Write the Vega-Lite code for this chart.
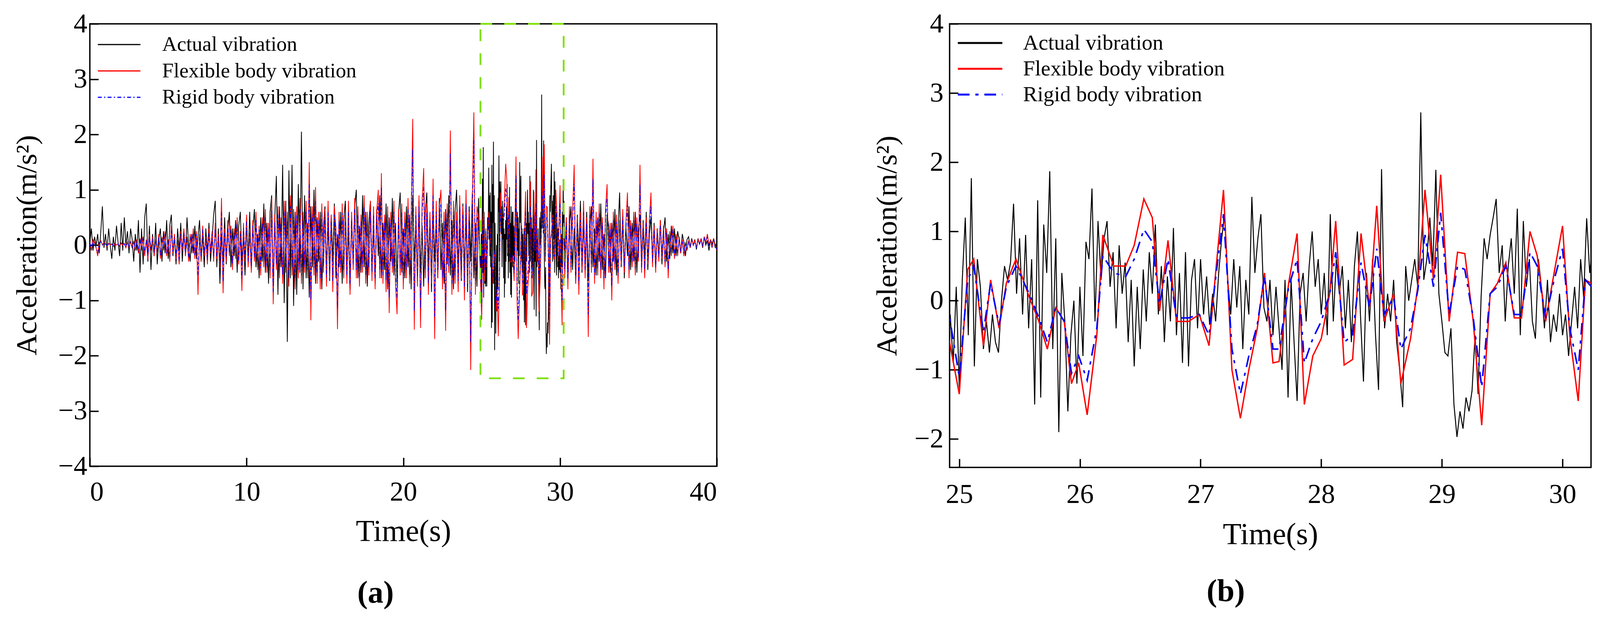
{
  "$schema": "https://vega.github.io/schema/vega-lite/v6.json",
  "background": "white",
  "padding": {"left": 30, "top": 24, "right": 5, "bottom": 5},
  "config": {
    "font": "Liberation Serif",
    "view": {"stroke": "black", "strokeWidth": 3.5},
    "axis": {
      "grid": false,
      "domain": false,
      "format": "d",
      "labelFont": "Liberation Serif",
      "labelFontSize": 70,
      "labelColor": "black",
      "tickColor": "black",
      "tickWidth": 3.5,
      "tickSize": -22,
      "titleFont": "Liberation Serif",
      "titleFontWeight": "normal",
      "titleColor": "black"
    },
    "title": {"font": "Liberation Serif", "color": "black"}
  },
  "datasets": {
    "act": [
      {"t":0,"v":0.05},{"t":0.1,"v":0.3},{"t":0.2,"v":-0.1},{"t":0.3,"v":0.15},{"t":0.4,"v":0},{"t":0.5,"v":0.2},{"t":0.6,"v":-0.15},{"t":0.7,"v":0.25},{"t":0.8,"v":0.7},{"t":0.9,"v":-0.05},
      {"t":1,"v":0.2},{"t":1.1,"v":-0.1},{"t":1.2,"v":0.3},{"t":1.3,"v":0},{"t":1.4,"v":-0.25},{"t":1.5,"v":0.15},{"t":1.6,"v":-0.1},{"t":1.7,"v":0.35},{"t":1.8,"v":0.05},{"t":1.9,"v":-0.2},
      {"t":2,"v":0.4},{"t":2.1,"v":-0.1},{"t":2.2,"v":0.5},{"t":2.3,"v":0},{"t":2.4,"v":0.25},{"t":2.5,"v":-0.15},{"t":2.6,"v":0.3},{"t":2.7,"v":0.1},{"t":2.8,"v":-0.3},{"t":2.9,"v":0.2},
      {"t":3,"v":-0.1},{"t":3.1,"v":0.45},{"t":3.2,"v":-0.5},{"t":3.3,"v":0.3},{"t":3.4,"v":-0.35},{"t":3.5,"v":0.5},{"t":3.6,"v":0.75},{"t":3.7,"v":-0.3},{"t":3.8,"v":0.35},{"t":3.9,"v":-0.45},
      {"t":4,"v":0.2},{"t":4.1,"v":-0.2},{"t":4.2,"v":0.4},{"t":4.3,"v":-0.35},{"t":4.4,"v":0.1},{"t":4.5,"v":0.3},{"t":4.6,"v":-0.3},{"t":4.7,"v":0.25},{"t":4.8,"v":-0.15},{"t":4.9,"v":0.45},
      {"t":5,"v":-0.25},{"t":5.1,"v":0.35},{"t":5.2,"v":0.55},{"t":5.3,"v":-0.2},{"t":5.4,"v":0.15},{"t":5.5,"v":-0.35},{"t":5.6,"v":0.3},{"t":5.7,"v":-0.1},{"t":5.8,"v":0.4},{"t":5.9,"v":-0.3},
      {"t":6,"v":0.25},{"t":6.1,"v":-0.2},{"t":6.2,"v":0.5},{"t":6.3,"v":0},{"t":6.4,"v":-0.3},{"t":6.5,"v":0.2},{"t":6.6,"v":-0.15},{"t":6.7,"v":0.35},{"t":6.8,"v":-0.25},{"t":6.9,"v":0.15},
      {"t":7,"v":0.45},{"t":7.1,"v":-0.3},{"t":7.2,"v":0.2},{"t":7.3,"v":-0.4},{"t":7.4,"v":0.3},{"t":7.5,"v":-0.15},{"t":7.6,"v":0.4},{"t":7.7,"v":-0.3},{"t":7.8,"v":0.1},{"t":7.9,"v":0.55},
      {"t":8,"v":0.8},{"t":8.1,"v":-0.4},{"t":8.2,"v":0.3},{"t":8.3,"v":-0.7},{"t":8.4,"v":0.2},{"t":8.5,"v":-0.3},{"t":8.6,"v":0.5},{"t":8.7,"v":-0.35},{"t":8.8,"v":0.25},{"t":8.9,"v":0.6},
      {"t":9,"v":-0.4},{"t":9.1,"v":0.3},{"t":9.2,"v":-0.2},{"t":9.3,"v":0.45},{"t":9.4,"v":-0.5},{"t":9.5,"v":0.35},{"t":9.6,"v":0.6},{"t":9.7,"v":-0.3},{"t":9.8,"v":0.2},{"t":9.9,"v":-0.55},
      {"t":10,"v":0.4},{"t":10.1,"v":-0.25},{"t":10.2,"v":0.6},{"t":10.3,"v":-0.45},{"t":10.4,"v":0.3},{"t":10.5,"v":0.65},{"t":10.6,"v":-0.4},{"t":10.7,"v":0.2},{"t":10.8,"v":-0.6},{"t":10.9,"v":0.5},
      {"t":11,"v":-0.3},{"t":11.1,"v":0.75},{"t":11.2,"v":-0.5},{"t":11.3,"v":0.4},{"t":11.4,"v":-0.7},{"t":11.5,"v":0.6},{"t":11.6,"v":0.9},{"t":11.7,"v":-0.8},{"t":11.8,"v":0.5},{"t":11.9,"v":1.25},
      {"t":12,"v":-0.9},{"t":12.1,"v":0.7},{"t":12.2,"v":-0.4},{"t":12.3,"v":1.45},{"t":12.4,"v":-1.05},{"t":12.5,"v":0.8},{"t":12.6,"v":-1.75},{"t":12.7,"v":1.35},{"t":12.8,"v":-0.6},{"t":12.9,"v":1.45},
      {"t":13,"v":-1.1},{"t":13.1,"v":0.6},{"t":13.2,"v":-0.9},{"t":13.3,"v":1.1},{"t":13.4,"v":-0.5},{"t":13.5,"v":2.05},{"t":13.6,"v":-0.8},{"t":13.7,"v":0.9},{"t":13.8,"v":-0.6},{"t":13.9,"v":0.4},
      {"t":14,"v":-0.95},{"t":14.1,"v":0.7},{"t":14.2,"v":-0.4},{"t":14.3,"v":1},{"t":14.4,"v":-0.7},{"t":14.5,"v":0.5},{"t":14.6,"v":-0.3},{"t":14.7,"v":0.6},{"t":14.8,"v":-0.8},{"t":14.9,"v":0.3},
      {"t":15,"v":0.7},{"t":15.1,"v":-0.5},{"t":15.2,"v":0.4},{"t":15.3,"v":-0.65},{"t":15.4,"v":0.55},{"t":15.5,"v":-0.3},{"t":15.6,"v":0.75},{"t":15.7,"v":-0.6},{"t":15.8,"v":0.2},{"t":15.9,"v":-0.4},
      {"t":16,"v":0.6},{"t":16.1,"v":-0.7},{"t":16.2,"v":0.45},{"t":16.3,"v":0.8},{"t":16.4,"v":-0.5},{"t":16.5,"v":0.3},{"t":16.6,"v":-0.85},{"t":16.7,"v":0.5},{"t":16.8,"v":-0.3},{"t":16.9,"v":0.7},
      {"t":17,"v":1},{"t":17.1,"v":-0.6},{"t":17.2,"v":0.35},{"t":17.3,"v":-0.5},{"t":17.4,"v":0.9},{"t":17.5,"v":-0.4},{"t":17.6,"v":0.6},{"t":17.7,"v":-0.75},{"t":17.8,"v":0.4},{"t":17.9,"v":0.8},
      {"t":18,"v":-0.5},{"t":18.1,"v":0.3},{"t":18.2,"v":-0.7},{"t":18.3,"v":0.65},{"t":18.4,"v":-0.2},{"t":18.5,"v":0.9},{"t":18.6,"v":-0.6},{"t":18.7,"v":0.4},{"t":18.8,"v":-0.45},{"t":18.9,"v":0.75},
      {"t":19,"v":-0.8},{"t":19.1,"v":0.5},{"t":19.2,"v":-0.3},{"t":19.3,"v":0.85},{"t":19.4,"v":-0.55},{"t":19.5,"v":0.4},{"t":19.6,"v":-0.7},{"t":19.7,"v":0.6},{"t":19.8,"v":0.95},{"t":19.9,"v":-0.5},
      {"t":20,"v":0.3},{"t":20.1,"v":-0.6},{"t":20.2,"v":0.7},{"t":20.3,"v":-0.4},{"t":20.4,"v":0.55},{"t":20.5,"v":-0.8},{"t":20.6,"v":0.9},{"t":20.7,"v":-0.3},{"t":20.8,"v":0.45},{"t":20.9,"v":-0.65},
      {"t":21,"v":0.8},{"t":21.1,"v":-0.5},{"t":21.2,"v":0.35},{"t":21.3,"v":-0.75},{"t":21.4,"v":0.6},{"t":21.5,"v":0.95},{"t":21.6,"v":-0.4},{"t":21.7,"v":0.5},{"t":21.8,"v":-0.85},{"t":21.9,"v":0.7},
      {"t":22,"v":-0.3},{"t":22.1,"v":0.55},{"t":22.2,"v":-0.6},{"t":22.3,"v":0.85},{"t":22.4,"v":-0.45},{"t":22.5,"v":0.4},{"t":22.6,"v":-0.7},{"t":22.7,"v":0.65},{"t":22.8,"v":-0.35},{"t":22.9,"v":0.9},
      {"t":23,"v":-0.55},{"t":23.1,"v":0.45},{"t":23.2,"v":-0.8},{"t":23.3,"v":0.6},{"t":23.4,"v":1},{"t":23.5,"v":-0.4},{"t":23.6,"v":0.3},{"t":23.7,"v":-0.65},{"t":23.8,"v":0.75},{"t":23.9,"v":-0.5},
      {"t":24,"v":0.55},{"t":24.1,"v":-0.85},{"t":24.2,"v":0.7},{"t":24.3,"v":-0.3},{"t":24.4,"v":0.95},{"t":24.5,"v":-0.6},{"t":24.6,"v":0.4},{"t":24.7,"v":-0.75},{"t":24.8,"v":0.85},{"t":24.9,"v":-0.4},
      {"t":24.925,"v":-0.2},{"t":24.95,"v":-0.9},{"t":24.975,"v":0.2},{"t":25,"v":-1.25},{"t":25.025,"v":0.3},{"t":25.05,"v":1.2},{"t":25.075,"v":-0.5},{"t":25.1,"v":1.77},{"t":25.125,"v":-0.95},{"t":25.15,"v":0.6},
      {"t":25.175,"v":0.2},{"t":25.2,"v":-0.7},{"t":25.225,"v":-0.3},{"t":25.25,"v":-0.75},{"t":25.275,"v":-0.2},{"t":25.3,"v":-0.6},{"t":25.325,"v":-0.75},{"t":25.35,"v":0},{"t":25.375,"v":0.5},{"t":25.4,"v":0.3},
      {"t":25.425,"v":0.55},{"t":25.45,"v":1.4},{"t":25.475,"v":0.1},{"t":25.5,"v":0.9},{"t":25.525,"v":-0.2},{"t":25.55,"v":0.95},{"t":25.575,"v":-0.4},{"t":25.6,"v":0.6},{"t":25.625,"v":-1.5},{"t":25.65,"v":1.45},
      {"t":25.675,"v":-1.4},{"t":25.7,"v":1.1},{"t":25.725,"v":0.4},{"t":25.75,"v":1.87},{"t":25.775,"v":-0.7},{"t":25.8,"v":0.9},{"t":25.825,"v":-1.9},{"t":25.85,"v":0.4},{"t":25.875,"v":-0.3},{"t":25.9,"v":-1.6},
      {"t":25.925,"v":-0.5},{"t":25.95,"v":0},{"t":25.975,"v":-1.2},{"t":26,"v":0.2},{"t":26.025,"v":-0.8},{"t":26.05,"v":0.85},{"t":26.075,"v":0.6},{"t":26.1,"v":1.62},{"t":26.125,"v":-0.3},{"t":26.15,"v":1.15},
      {"t":26.175,"v":0.3},{"t":26.2,"v":0.9},{"t":26.225,"v":1.15},{"t":26.25,"v":0.2},{"t":26.275,"v":0.7},{"t":26.3,"v":-0.4},{"t":26.325,"v":0.8},{"t":26.35,"v":0.1},{"t":26.375,"v":0.55},{"t":26.4,"v":-0.6},
      {"t":26.425,"v":0.3},{"t":26.45,"v":-0.95},{"t":26.475,"v":0.2},{"t":26.5,"v":-0.7},{"t":26.525,"v":0.45},{"t":26.55,"v":-0.3},{"t":26.575,"v":0.7},{"t":26.6,"v":0.1},{"t":26.625,"v":1.1},{"t":26.65,"v":-0.2},
      {"t":26.675,"v":0.5},{"t":26.7,"v":-0.6},{"t":26.725,"v":0.35},{"t":26.75,"v":-0.3},{"t":26.775,"v":1.05},{"t":26.8,"v":-0.5},{"t":26.825,"v":0.4},{"t":26.85,"v":-0.9},{"t":26.875,"v":0.7},{"t":26.9,"v":-0.95},
      {"t":26.925,"v":0.3},{"t":26.95,"v":0.6},{"t":26.975,"v":-0.4},{"t":27,"v":0.6},{"t":27.025,"v":-0.2},{"t":27.05,"v":0.35},{"t":27.075,"v":-0.35},{"t":27.1,"v":0.1},{"t":27.125,"v":-0.3},{"t":27.15,"v":0.4},
      {"t":27.175,"v":0.9},{"t":27.2,"v":1.25},{"t":27.225,"v":0.3},{"t":27.25,"v":-0.2},{"t":27.275,"v":0.6},{"t":27.3,"v":-0.1},{"t":27.325,"v":0.5},{"t":27.35,"v":-0.7},{"t":27.375,"v":0.3},{"t":27.4,"v":-0.2},
      {"t":27.425,"v":1.5},{"t":27.45,"v":0.4},{"t":27.475,"v":0.9},{"t":27.5,"v":1.25},{"t":27.525,"v":-0.1},{"t":27.55,"v":-0.3},{"t":27.575,"v":0.3},{"t":27.6,"v":-0.5},{"t":27.625,"v":0.2},{"t":27.65,"v":-0.4},
      {"t":27.675,"v":-1},{"t":27.7,"v":0.3},{"t":27.725,"v":-1.4},{"t":27.75,"v":0.3},{"t":27.775,"v":-0.6},{"t":27.8,"v":-1.45},{"t":27.825,"v":0.1},{"t":27.85,"v":0.4},{"t":27.875,"v":-0.3},{"t":27.9,"v":0.5},
      {"t":27.925,"v":1},{"t":27.95,"v":0.2},{"t":27.975,"v":0.6},{"t":28,"v":-0.2},{"t":28.025,"v":0.4},{"t":28.05,"v":-0.5},{"t":28.075,"v":1.25},{"t":28.1,"v":-0.3},{"t":28.125,"v":0.6},{"t":28.15,"v":0.1},
      {"t":28.175,"v":0.5},{"t":28.2,"v":-0.4},{"t":28.225,"v":0.3},{"t":28.25,"v":-0.6},{"t":28.275,"v":0.5},{"t":28.3,"v":1},{"t":28.325,"v":-0.2},{"t":28.35,"v":-1.17},{"t":28.375,"v":0.4},{"t":28.4,"v":-0.3},
      {"t":28.425,"v":0.6},{"t":28.45,"v":-0.5},{"t":28.475,"v":-1.29},{"t":28.5,"v":1.9},{"t":28.525,"v":-0.4},{"t":28.55,"v":0.1},{"t":28.575,"v":-0.3},{"t":28.6,"v":0.3},{"t":28.625,"v":-0.6},{"t":28.65,"v":-1},
      {"t":28.675,"v":-1.54},{"t":28.7,"v":0.5},{"t":28.725,"v":0},{"t":28.75,"v":0.3},{"t":28.775,"v":0.6},{"t":28.8,"v":0.2},{"t":28.825,"v":2.72},{"t":28.85,"v":0.3},{"t":28.875,"v":0.6},{"t":28.9,"v":1.2},
      {"t":28.925,"v":0.5},{"t":28.95,"v":1.89},{"t":28.975,"v":0.1},{"t":29,"v":-0.3},{"t":29.025,"v":-0.75},{"t":29.05,"v":-0.8},{"t":29.075,"v":-0.4},{"t":29.1,"v":-1.5},{"t":29.125,"v":-1.97},{"t":29.15,"v":-1.6},
      {"t":29.175,"v":-1.85},{"t":29.2,"v":-1.4},{"t":29.225,"v":-1.6},{"t":29.25,"v":-1.3},{"t":29.275,"v":-0.5},{"t":29.3,"v":-1.35},{"t":29.325,"v":0.05},{"t":29.35,"v":0.9},{"t":29.375,"v":0.6},{"t":29.4,"v":0.95},
      {"t":29.425,"v":1.2},{"t":29.45,"v":1.47},{"t":29.475,"v":0.4},{"t":29.5,"v":0.8},{"t":29.525,"v":-0.3},{"t":29.55,"v":0.5},{"t":29.575,"v":0.9},{"t":29.6,"v":0.1},{"t":29.625,"v":1.33},{"t":29.65,"v":-0.5},
      {"t":29.675,"v":1.15},{"t":29.7,"v":0.2},{"t":29.725,"v":0.6},{"t":29.75,"v":-0.3},{"t":29.775,"v":-0.55},{"t":29.8,"v":0.6},{"t":29.825,"v":0.2},{"t":29.85,"v":-0.4},{"t":29.875,"v":0.3},{"t":29.9,"v":-0.6},
      {"t":29.925,"v":-0.2},{"t":29.95,"v":-0.45},{"t":29.975,"v":0.1},{"t":30,"v":-0.5},{"t":30.025,"v":-0.2},{"t":30.05,"v":-0.8},{"t":30.075,"v":-0.3},{"t":30.1,"v":0.2},{"t":30.125,"v":-0.4},{"t":30.15,"v":0.6},
      {"t":30.175,"v":0.05},{"t":30.2,"v":1.19},{"t":30.225,"v":0.4},{"t":30.25,"v":0.8},
      {"t":30.3,"v":-0.3},{"t":30.4,"v":0.5},{"t":30.5,"v":-0.6},{"t":30.6,"v":0.35},{"t":30.7,"v":0.7},{"t":30.8,"v":-0.45},{"t":30.9,"v":0.3},{"t":31,"v":-0.7},{"t":31.1,"v":0.55},{"t":31.2,"v":-0.2},
      {"t":31.3,"v":0.8},{"t":31.4,"v":-0.5},{"t":31.5,"v":0.4},{"t":31.6,"v":-0.35},{"t":31.7,"v":0.6},{"t":31.8,"v":-0.65},{"t":31.9,"v":0.25},{"t":32,"v":0.7},{"t":32.1,"v":-0.4},{"t":32.2,"v":0.3},
      {"t":32.3,"v":-0.55},{"t":32.4,"v":0.5},{"t":32.5,"v":-0.3},{"t":32.6,"v":0.75},{"t":32.7,"v":-0.45},{"t":32.8,"v":0.2},{"t":32.9,"v":-0.6},{"t":33,"v":0.55},{"t":33.1,"v":0.35},{"t":33.2,"v":-0.5},
      {"t":33.3,"v":0.4},{"t":33.4,"v":-0.3},{"t":33.5,"v":0.65},{"t":33.6,"v":-0.55},{"t":33.7,"v":0.3},{"t":33.8,"v":0.95},{"t":33.9,"v":-0.4},{"t":34,"v":0.5},{"t":34.1,"v":-0.6},{"t":34.2,"v":0.35},
      {"t":34.3,"v":-0.2},{"t":34.4,"v":0.7},{"t":34.5,"v":-0.45},{"t":34.6,"v":0.4},{"t":34.7,"v":-0.3},{"t":34.8,"v":0.6},{"t":34.9,"v":-0.5},{"t":35,"v":0.3},{"t":35.1,"v":0.55},{"t":35.2,"v":-0.35},
      {"t":35.3,"v":0.45},{"t":35.4,"v":-0.25},{"t":35.5,"v":0.6},{"t":35.6,"v":-0.45},{"t":35.7,"v":0.2},{"t":35.8,"v":0.5},{"t":35.9,"v":-0.3},{"t":36,"v":0.4},{"t":36.1,"v":-0.4},{"t":36.2,"v":0.3},
      {"t":36.3,"v":-0.2},{"t":36.4,"v":0.45},{"t":36.5,"v":-0.35},{"t":36.6,"v":0.25},{"t":36.7,"v":0.5},{"t":36.8,"v":-0.3},{"t":36.9,"v":0.2},{"t":37,"v":-0.25},{"t":37.1,"v":0.35},{"t":37.2,"v":-0.15},
      {"t":37.3,"v":0.3},{"t":37.4,"v":-0.2},{"t":37.5,"v":0.25},{"t":37.6,"v":0.1},{"t":37.7,"v":-0.15},{"t":37.8,"v":0.2},{"t":37.9,"v":0.05},{"t":38,"v":-0.2},{"t":38.1,"v":0.1},{"t":38.2,"v":0.15},
      {"t":38.3,"v":-0.05},{"t":38.4,"v":0.12},{"t":38.5,"v":0},{"t":38.6,"v":0.1},{"t":38.7,"v":-0.08},{"t":38.8,"v":0.12},{"t":38.9,"v":0.02},{"t":39,"v":0.1},{"t":39.1,"v":-0.05},{"t":39.2,"v":0.15},
      {"t":39.3,"v":0},{"t":39.4,"v":0.08},{"t":39.5,"v":-0.1},{"t":39.6,"v":0.1},{"t":39.7,"v":0.02},{"t":39.8,"v":0.12},{"t":39.9,"v":-0.05},{"t":40,"v":0.05}
    ],
    "sim": [
      {"t":0,"f":0.05,"r":0.04},{"t":0.1,"f":-0.1,"r":-0.08},{"t":0.2,"f":0.1,"r":0.08},{"t":0.3,"f":0.05,"r":0.04},{"t":0.4,"f":-0.05,"r":-0.04},{"t":0.5,"f":-0.2,"r":-0.15},{"t":0.6,"f":0.05,"r":0.04},{"t":0.7,"f":0.08,"r":0.06},{"t":0.8,"f":0,"r":0},{"t":0.9,"f":0.05,"r":0.04},
      {"t":1,"f":0.02,"r":0.02},{"t":1.1,"f":-0.03,"r":-0.02},{"t":1.2,"f":0.03,"r":0.02},{"t":1.3,"f":0,"r":0},{"t":1.4,"f":0.02,"r":0.02},{"t":1.5,"f":-0.02,"r":-0.02},{"t":1.6,"f":0.03,"r":0.02},{"t":1.7,"f":0,"r":0},{"t":1.8,"f":0.02,"r":0.02},{"t":1.9,"f":-0.03,"r":-0.02},
      {"t":2,"f":0.04,"r":0.03},{"t":2.1,"f":0,"r":0},{"t":2.2,"f":0.03,"r":0.02},{"t":2.3,"f":-0.05,"r":-0.04},{"t":2.4,"f":0.05,"r":0.04},{"t":2.5,"f":-0.03,"r":-0.02},{"t":2.6,"f":0.06,"r":0.05},{"t":2.7,"f":-0.05,"r":-0.04},{"t":2.8,"f":0.08,"r":0.06},{"t":2.9,"f":-0.1,"r":-0.08},
      {"t":3,"f":0.1,"r":0.08},{"t":3.1,"f":-0.15,"r":-0.12},{"t":3.2,"f":0.12,"r":0.1},{"t":3.3,"f":-0.1,"r":-0.08},{"t":3.4,"f":0.15,"r":0.12},{"t":3.5,"f":-0.2,"r":-0.15},{"t":3.6,"f":0.1,"r":0.08},{"t":3.7,"f":-0.25,"r":-0.2},{"t":3.8,"f":0.2,"r":0.15},{"t":3.9,"f":-0.1,"r":-0.08},
      {"t":4,"f":0.15,"r":0.12},{"t":4.1,"f":-0.2,"r":-0.15},{"t":4.2,"f":0.1,"r":0.08},{"t":4.3,"f":-0.15,"r":-0.12},{"t":4.4,"f":0.2,"r":0.15},{"t":4.5,"f":-0.25,"r":-0.2},{"t":4.6,"f":0.15,"r":0.12},{"t":4.7,"f":-0.1,"r":-0.08},{"t":4.8,"f":0.25,"r":0.2},{"t":4.9,"f":-0.2,"r":-0.15},
      {"t":5,"f":0.1,"r":0.08},{"t":5.1,"f":-0.3,"r":-0.22},{"t":5.2,"f":0.35,"r":0.28},{"t":5.3,"f":-0.15,"r":-0.12},{"t":5.4,"f":0.2,"r":0.15},{"t":5.5,"f":-0.25,"r":-0.2},{"t":5.6,"f":0.1,"r":0.08},{"t":5.7,"f":-0.35,"r":-0.28},{"t":5.8,"f":0.25,"r":0.2},{"t":5.9,"f":-0.1,"r":-0.08},
      {"t":6,"f":0.3,"r":0.22},{"t":6.1,"f":-0.2,"r":-0.15},{"t":6.2,"f":0.15,"r":0.12},{"t":6.3,"f":-0.3,"r":-0.22},{"t":6.4,"f":0.2,"r":0.15},{"t":6.5,"f":-0.15,"r":-0.12},{"t":6.6,"f":0.3,"r":0.22},{"t":6.7,"f":-0.25,"r":-0.2},{"t":6.8,"f":0.25,"r":0.2},{"t":6.9,"f":-0.9,"r":-0.55},
      {"t":7,"f":0.2,"r":0.15},{"t":7.1,"f":-0.3,"r":-0.22},{"t":7.2,"f":0.35,"r":0.28},{"t":7.3,"f":-0.2,"r":-0.15},{"t":7.4,"f":0.15,"r":0.12},{"t":7.5,"f":-0.35,"r":-0.28},{"t":7.6,"f":0.3,"r":0.22},{"t":7.7,"f":-0.15,"r":-0.12},{"t":7.8,"f":0.25,"r":0.2},{"t":7.9,"f":-0.3,"r":-0.22},
      {"t":8,"f":0.4,"r":0.3},{"t":8.1,"f":-0.25,"r":-0.2},{"t":8.2,"f":0.2,"r":0.15},{"t":8.3,"f":-0.4,"r":-0.3},{"t":8.4,"f":0.85,"r":0.6},{"t":8.5,"f":-0.87,"r":-0.65},{"t":8.6,"f":0.3,"r":0.22},{"t":8.7,"f":-0.3,"r":-0.22},{"t":8.8,"f":0.45,"r":0.35},{"t":8.9,"f":-0.2,"r":-0.15},
      {"t":9,"f":0.35,"r":0.28},{"t":9.1,"f":-0.45,"r":-0.35},{"t":9.2,"f":0.3,"r":0.22},{"t":9.3,"f":-0.25,"r":-0.2},{"t":9.4,"f":0.5,"r":0.4},{"t":9.5,"f":-0.35,"r":-0.28},{"t":9.6,"f":0.25,"r":0.2},{"t":9.7,"f":-0.83,"r":-0.6},{"t":9.8,"f":0.4,"r":0.3},{"t":9.9,"f":-0.3,"r":-0.22},
      {"t":10,"f":0.55,"r":0.42},{"t":10.1,"f":-0.4,"r":-0.3},{"t":10.2,"f":0.3,"r":0.22},{"t":10.3,"f":-0.5,"r":-0.4},{"t":10.4,"f":0.45,"r":0.35},{"t":10.5,"f":-0.3,"r":-0.22},{"t":10.6,"f":0.6,"r":0.45},{"t":10.7,"f":-0.45,"r":-0.35},{"t":10.8,"f":0.35,"r":0.28},{"t":10.9,"f":-0.55,"r":-0.42},
      {"t":11,"f":0.5,"r":0.4},{"t":11.1,"f":-0.4,"r":-0.3},{"t":11.2,"f":0.65,"r":0.5},{"t":11.3,"f":-0.5,"r":-0.4},{"t":11.4,"f":0.4,"r":0.3},{"t":11.5,"f":-0.6,"r":-0.45},{"t":11.6,"f":0.85,"r":0.65},{"t":11.7,"f":-1.07,"r":-0.85},{"t":11.8,"f":0.55,"r":0.42},{"t":11.9,"f":-0.45,"r":-0.35},
      {"t":12,"f":0.7,"r":0.55},{"t":12.1,"f":-0.6,"r":-0.45},{"t":12.2,"f":0.5,"r":0.4},{"t":12.3,"f":-0.7,"r":-0.55},{"t":12.4,"f":0.8,"r":0.6},{"t":12.5,"f":-0.5,"r":-0.4},{"t":12.6,"f":0.6,"r":0.45},{"t":12.7,"f":-0.75,"r":-0.6},{"t":12.8,"f":0.9,"r":0.7},{"t":12.9,"f":-0.55,"r":-0.42},
      {"t":13,"f":0.65,"r":0.5},{"t":13.1,"f":-0.8,"r":-0.6},{"t":13.2,"f":0.7,"r":0.55},{"t":13.3,"f":-0.6,"r":-0.45},{"t":13.4,"f":0.85,"r":0.65},{"t":13.5,"f":-0.7,"r":-0.55},{"t":13.6,"f":0.6,"r":0.45},{"t":13.7,"f":-0.5,"r":-0.4},{"t":13.8,"f":0.8,"r":0.6},{"t":13.9,"f":-0.6,"r":-0.45},
      {"t":14,"f":1.5,"r":1.1},{"t":14.1,"f":-1.36,"r":-1},{"t":14.2,"f":0.7,"r":0.55},{"t":14.3,"f":-0.55,"r":-0.42},{"t":14.4,"f":1.05,"r":0.8},{"t":14.5,"f":-0.7,"r":-0.55},{"t":14.6,"f":0.6,"r":0.45},{"t":14.7,"f":-0.8,"r":-0.6},{"t":14.8,"f":0.75,"r":0.58},{"t":14.9,"f":-0.5,"r":-0.4},
      {"t":15,"f":0.65,"r":0.5},{"t":15.1,"f":-0.75,"r":-0.58},{"t":15.2,"f":0.8,"r":0.6},{"t":15.3,"f":-0.6,"r":-0.45},{"t":15.4,"f":0.55,"r":0.42},{"t":15.5,"f":-0.85,"r":-0.65},{"t":15.6,"f":0.7,"r":0.55},{"t":15.7,"f":0.3,"r":0.22},{"t":15.8,"f":-1.52,"r":-1.15},{"t":15.9,"f":0.6,"r":0.45},
      {"t":16,"f":-0.5,"r":-0.4},{"t":16.1,"f":0.75,"r":0.58},{"t":16.2,"f":-0.6,"r":-0.45},{"t":16.3,"f":0.55,"r":0.42},{"t":16.4,"f":-0.7,"r":-0.55},{"t":16.5,"f":0.8,"r":0.6},{"t":16.6,"f":-0.9,"r":-0.7},{"t":16.7,"f":0.6,"r":0.45},{"t":16.8,"f":-0.45,"r":-0.35},{"t":16.9,"f":0.85,"r":0.65},
      {"t":17,"f":-0.6,"r":-0.45},{"t":17.1,"f":0.7,"r":0.55},{"t":17.2,"f":-0.75,"r":-0.58},{"t":17.3,"f":0.55,"r":0.42},{"t":17.4,"f":-0.5,"r":-0.4},{"t":17.5,"f":0.9,"r":0.7},{"t":17.6,"f":-0.7,"r":-0.55},{"t":17.7,"f":0.6,"r":0.45},{"t":17.8,"f":-0.55,"r":-0.42},{"t":17.9,"f":0.8,"r":0.6},
      {"t":18,"f":-0.65,"r":-0.5},{"t":18.1,"f":0.7,"r":0.55},{"t":18.2,"f":-0.8,"r":-0.6},{"t":18.3,"f":0.6,"r":0.45},{"t":18.4,"f":1,"r":0.75},{"t":18.5,"f":-0.6,"r":-0.45},{"t":18.6,"f":1.3,"r":1.05},{"t":18.7,"f":-0.7,"r":-0.55},{"t":18.8,"f":0.55,"r":0.42},{"t":18.9,"f":-0.85,"r":-0.65},
      {"t":19,"f":0.7,"r":0.55},{"t":19.1,"f":-1.23,"r":-0.95},{"t":19.2,"f":0.6,"r":0.45},{"t":19.3,"f":-0.5,"r":-0.4},{"t":19.4,"f":0.8,"r":0.6},{"t":19.5,"f":-0.7,"r":-0.55},{"t":19.6,"f":-1.25,"r":-0.95},{"t":19.7,"f":0.65,"r":0.5},{"t":19.8,"f":-0.55,"r":-0.42},{"t":19.9,"f":0.75,"r":0.58},
      {"t":20,"f":-0.8,"r":-0.6},{"t":20.1,"f":0.6,"r":0.45},{"t":20.2,"f":-0.6,"r":-0.45},{"t":20.3,"f":0.85,"r":0.65},{"t":20.4,"f":-0.7,"r":-0.55},{"t":20.5,"f":0.5,"r":0.4},{"t":20.6,"f":2.28,"r":1.75},{"t":20.7,"f":-1.53,"r":-1.2},{"t":20.8,"f":0.7,"r":0.55},{"t":20.9,"f":-0.75,"r":-0.58},
      {"t":21,"f":0.9,"r":0.7},{"t":21.1,"f":-1.5,"r":-1.15},{"t":21.2,"f":0.8,"r":0.6},{"t":21.3,"f":1.39,"r":1.05},{"t":21.4,"f":-0.6,"r":-0.45},{"t":21.5,"f":0.75,"r":0.58},{"t":21.6,"f":-0.9,"r":-0.7},{"t":21.7,"f":0.6,"r":0.45},{"t":21.8,"f":-0.7,"r":-0.55},{"t":21.9,"f":1.2,"r":0.9},
      {"t":22,"f":-1.7,"r":-1.3},{"t":22.1,"f":0.8,"r":0.6},{"t":22.2,"f":-0.6,"r":-0.45},{"t":22.3,"f":0.7,"r":0.55},{"t":22.4,"f":1,"r":0.75},{"t":22.5,"f":-0.8,"r":-0.6},{"t":22.6,"f":0.6,"r":0.45},{"t":22.7,"f":-1.55,"r":-1.2},{"t":22.8,"f":0.75,"r":0.58},{"t":22.9,"f":-0.5,"r":-0.4},
      {"t":23,"f":2.07,"r":1.65},{"t":23.1,"f":-0.9,"r":-0.7},{"t":23.2,"f":0.8,"r":0.6},{"t":23.3,"f":-0.7,"r":-0.55},{"t":23.4,"f":0.6,"r":0.45},{"t":23.5,"f":-0.85,"r":-0.65},{"t":23.6,"f":0.9,"r":0.7},{"t":23.7,"f":-0.6,"r":-0.45},{"t":23.8,"f":0.7,"r":0.55},{"t":23.9,"f":-1,"r":-0.75},
      {"t":24,"f":1,"r":0.75},{"t":24.1,"f":-0.7,"r":-0.55},{"t":24.2,"f":0.6,"r":0.45},{"t":24.3,"f":-2.26,"r":-1.75},{"t":24.4,"f":0.8,"r":0.6},{"t":24.5,"f":2.4,"r":1.9},{"t":24.6,"f":-0.9,"r":-0.7},{"t":24.7,"f":0.7,"r":0.55},{"t":24.8,"f":0.5,"r":0.4},{"t":24.9,"f":-0.4,"r":-0.3},
      {"t":24.92,"f":-0.6,"r":-0.25},{"t":25,"f":-1.35,"r":-1.1},{"t":25.07,"f":0.45,"r":0.3},{"t":25.12,"f":0.6,"r":0.5},{"t":25.2,"f":-0.65,"r":-0.45},{"t":25.26,"f":0.3,"r":0.25},{"t":25.33,"f":-0.4,"r":-0.35},{"t":25.39,"f":0.25,"r":0.2},{"t":25.47,"f":0.6,"r":0.5},{"t":25.58,"f":0.05,"r":0.1},
      {"t":25.66,"f":-0.3,"r":-0.25},{"t":25.73,"f":-0.7,"r":-0.6},{"t":25.8,"f":-0.1,"r":-0.1},{"t":25.87,"f":-0.3,"r":-0.3},{"t":25.93,"f":-1.2,"r":-1.05},{"t":25.99,"f":-0.9,"r":-0.8},{"t":26.06,"f":-1.65,"r":-1.15},{"t":26.14,"f":-0.5,"r":-0.4},{"t":26.19,"f":0.95,"r":0.65},{"t":26.28,"f":0.5,"r":0.4},
      {"t":26.38,"f":0.5,"r":0.35},{"t":26.45,"f":0.8,"r":0.6},{"t":26.53,"f":1.47,"r":1.03},{"t":26.6,"f":1.2,"r":0.85},{"t":26.66,"f":-0.15,"r":-0.05},{"t":26.73,"f":0.87,"r":0.6},{"t":26.8,"f":-0.3,"r":-0.25},{"t":26.9,"f":-0.3,"r":-0.25},{"t":26.99,"f":-0.2,"r":-0.2},{"t":27.07,"f":-0.65,"r":-0.5},
      {"t":27.13,"f":0.5,"r":0.4},{"t":27.19,"f":1.6,"r":1.25},{"t":27.26,"f":-1,"r":-0.7},{"t":27.33,"f":-1.7,"r":-1.35},{"t":27.4,"f":-1,"r":-0.8},{"t":27.47,"f":-0.4,"r":-0.35},{"t":27.53,"f":0.4,"r":0.35},{"t":27.6,"f":-0.9,"r":-0.7},{"t":27.65,"f":-0.88,"r":-0.7},{"t":27.73,"f":0.25,"r":0.2},
      {"t":27.8,"f":0.97,"r":0.6},{"t":27.86,"f":-1.5,"r":-0.9},{"t":27.93,"f":-0.8,"r":-0.55},{"t":28,"f":-0.55,"r":-0.3},{"t":28.07,"f":0.1,"r":0.1},{"t":28.12,"f":1.15,"r":0.7},{"t":28.19,"f":-0.93,"r":-0.6},{"t":28.26,"f":-0.85,"r":-0.5},{"t":28.33,"f":0.97,"r":0.55},{"t":28.4,"f":-0.1,"r":-0.1},
      {"t":28.46,"f":1.37,"r":0.75},{"t":28.52,"f":-0.3,"r":-0.2},{"t":28.6,"f":0.1,"r":0.05},{"t":28.66,"f":-1.2,"r":-0.7},{"t":28.74,"f":-0.55,"r":-0.4},{"t":28.8,"f":0.2,"r":0.15},{"t":28.86,"f":1.6,"r":0.95},{"t":28.93,"f":0.3,"r":0.2},{"t":28.99,"f":1.82,"r":1.27},{"t":29.06,"f":-0.3,"r":-0.2},
      {"t":29.13,"f":0.7,"r":0.5},{"t":29.19,"f":0.68,"r":0.45},{"t":29.26,"f":-0.3,"r":-0.25},{"t":29.33,"f":-1.8,"r":-1.25},{"t":29.4,"f":0.1,"r":0.1},{"t":29.46,"f":0.25,"r":0.2},{"t":29.53,"f":0.55,"r":0.5},{"t":29.6,"f":-0.25,"r":-0.2},{"t":29.66,"f":-0.25,"r":-0.2},{"t":29.73,"f":1,"r":0.7},
      {"t":29.79,"f":0.65,"r":0.5},{"t":29.86,"f":-0.3,"r":-0.25},{"t":29.93,"f":0.4,"r":0.3},{"t":30,"f":1.08,"r":0.75},{"t":30.06,"f":-0.5,"r":-0.4},{"t":30.13,"f":-1.45,"r":-1},{"t":30.19,"f":0.3,"r":0.3},{"t":30.24,"f":0.25,"r":0.2},
      {"t":30.3,"f":-0.6,"r":-0.45},{"t":30.4,"f":0.5,"r":0.4},{"t":30.5,"f":-0.8,"r":-0.6},{"t":30.6,"f":0.7,"r":0.55},{"t":30.7,"f":-0.5,"r":-0.4},{"t":30.8,"f":0.6,"r":0.45},{"t":30.9,"f":1.45,"r":1.1},{"t":31,"f":-0.7,"r":-0.55},{"t":31.1,"f":0.5,"r":0.4},{"t":31.2,"f":-0.9,"r":-0.7},
      {"t":31.3,"f":0.6,"r":0.45},{"t":31.4,"f":-0.45,"r":-0.35},{"t":31.5,"f":0.8,"r":0.6},{"t":31.6,"f":-0.6,"r":-0.45},{"t":31.7,"f":0.5,"r":0.4},{"t":31.8,"f":-1.66,"r":-1.25},{"t":31.9,"f":0.7,"r":0.55},{"t":32,"f":-0.5,"r":-0.4},{"t":32.1,"f":1.56,"r":1.2},{"t":32.2,"f":-0.7,"r":-0.55},
      {"t":32.3,"f":0.6,"r":0.45},{"t":32.4,"f":-0.55,"r":-0.42},{"t":32.5,"f":0.75,"r":0.58},{"t":32.6,"f":-0.6,"r":-0.45},{"t":32.7,"f":0.5,"r":0.4},{"t":32.8,"f":-0.8,"r":-0.6},{"t":32.9,"f":0.65,"r":0.5},{"t":33,"f":1.1,"r":0.85},{"t":33.1,"f":-0.5,"r":-0.4},{"t":33.2,"f":0.4,"r":0.3},
      {"t":33.3,"f":-1,"r":-0.75},{"t":33.4,"f":0.6,"r":0.45},{"t":33.5,"f":-0.45,"r":-0.35},{"t":33.6,"f":0.55,"r":0.42},{"t":33.7,"f":-0.7,"r":-0.55},{"t":33.8,"f":0.45,"r":0.35},{"t":33.9,"f":-0.35,"r":-0.28},{"t":34,"f":0.65,"r":0.5},{"t":34.1,"f":-0.5,"r":-0.4},{"t":34.2,"f":0.4,"r":0.3},
      {"t":34.3,"f":0.95,"r":0.72},{"t":34.4,"f":-0.6,"r":-0.45},{"t":34.5,"f":0.45,"r":0.35},{"t":34.6,"f":-0.4,"r":-0.3},{"t":34.7,"f":0.6,"r":0.45},{"t":34.8,"f":-0.55,"r":-0.42},{"t":34.9,"f":0.5,"r":0.4},{"t":35,"f":-0.3,"r":-0.22},{"t":35.1,"f":1.45,"r":1.1},{"t":35.2,"f":-0.5,"r":-0.4},
      {"t":35.3,"f":0.4,"r":0.3},{"t":35.4,"f":-0.6,"r":-0.45},{"t":35.5,"f":0.5,"r":0.4},{"t":35.6,"f":-0.35,"r":-0.28},{"t":35.7,"f":0.45,"r":0.35},{"t":35.8,"f":0.95,"r":0.72},{"t":35.9,"f":-0.4,"r":-0.3},{"t":36,"f":0.35,"r":0.28},{"t":36.1,"f":-0.5,"r":-0.4},{"t":36.2,"f":0.3,"r":0.22},
      {"t":36.3,"f":-0.3,"r":-0.22},{"t":36.4,"f":0.45,"r":0.35},{"t":36.5,"f":-0.25,"r":-0.2},{"t":36.6,"f":0.35,"r":0.28},{"t":36.7,"f":-0.4,"r":-0.3},{"t":36.8,"f":0.3,"r":0.22},{"t":36.9,"f":-0.6,"r":-0.45},{"t":37,"f":0.25,"r":0.2},{"t":37.1,"f":-0.2,"r":-0.15},{"t":37.2,"f":0.35,"r":0.28},
      {"t":37.3,"f":-0.25,"r":-0.2},{"t":37.4,"f":0.2,"r":0.15},{"t":37.5,"f":-0.2,"r":-0.15},{"t":37.6,"f":0.15,"r":0.12},{"t":37.7,"f":-0.15,"r":-0.12},{"t":37.8,"f":0.1,"r":0.08},{"t":37.9,"f":-0.2,"r":-0.15},{"t":38,"f":0.05,"r":0.04},{"t":38.1,"f":-0.1,"r":-0.08},{"t":38.2,"f":0.08,"r":0.06},
      {"t":38.3,"f":-0.05,"r":-0.04},{"t":38.4,"f":0.1,"r":0.08},{"t":38.5,"f":0,"r":0},{"t":38.6,"f":0.08,"r":0.06},{"t":38.7,"f":-0.05,"r":-0.04},{"t":38.8,"f":0.1,"r":0.08},{"t":38.9,"f":0.02,"r":0.02},{"t":39,"f":0.12,"r":0.1},{"t":39.1,"f":-0.03,"r":-0.02},{"t":39.2,"f":0.15,"r":0.12},
      {"t":39.3,"f":0.05,"r":0.04},{"t":39.4,"f":0.2,"r":0.15},{"t":39.5,"f":0,"r":0},{"t":39.6,"f":0.1,"r":0.08},{"t":39.7,"f":-0.05,"r":-0.04},{"t":39.8,"f":0.12,"r":0.1},{"t":39.9,"f":0,"r":0},{"t":40,"f":-0.1,"r":-0.08}
    ],
    "box": [{"x1": 24.92, "x2": 30.23, "y1": -2.41, "y2": 4}]
  },
  "spacing": 596,
  "bounds": "flush",
  "resolve": {
    "scale": {"color": "independent", "strokeDash": "independent"},
    "legend": {"color": "independent", "strokeDash": "independent"}
  },
  "hconcat": [
    {
      "width": 1605,
      "height": 1132,
      "title": {"text": "(a)", "orient": "bottom", "frame": "group", "anchor": "middle", "fontSize": 80, "fontWeight": "bold", "offset": 80, "dx": -71},
      "layer": [
        {
          "data": {"name": "act"},
          "mark": {"type": "line", "strokeWidth": 2, "clip": true},
          "encoding": {
            "x": {"field": "t", "type": "quantitative", "title": "Time(s)", "scale": {"domain": [0, 40], "nice": false}, "axis": {"values": [0, 10, 20, 30, 40], "labelPadding": 54, "titleFontSize": 78, "titlePadding": 27}},
            "y": {"field": "v", "type": "quantitative", "title": "Acceleration(m/s²)", "scale": {"domain": [-4, 4], "nice": false}, "axis": {"values": [-4, -3, -2, -1, 0, 1, 2, 3, 4], "labelPadding": 29, "titleFontSize": 75, "titlePadding": 40}},
            "color": {"datum": "Actual vibration", "type": "nominal", "scale": {"domain": ["Actual vibration", "Flexible body vibration", "Rigid body vibration"], "range": ["#000000", "#ff0000", "#0000ff"]},
              "legend": {"title": null, "orient": "none", "legendX": 46, "legendY": 24, "padding": 0, "symbolType": "M-2,0H2", "symbolSize": 2970, "symbolStrokeWidth": 3, "labelFont": "Liberation Serif", "labelFontSize": 53, "labelColor": "black", "labelOffset": 81, "rowPadding": 11.5, "labelLimit": 0}},
            "strokeDash": {"datum": "Actual vibration", "type": "nominal", "scale": {"domain": ["Actual vibration", "Flexible body vibration", "Rigid body vibration"], "range": [[1, 0], [1, 0], [10, 6, 3, 6]]},
              "legend": {"title": null, "orient": "none", "legendX": 46, "legendY": 24, "padding": 0, "symbolType": "M-2,0H2", "symbolSize": 2970, "symbolStrokeWidth": 3, "labelFont": "Liberation Serif", "labelFontSize": 53, "labelColor": "black", "labelOffset": 81, "rowPadding": 11.5, "labelLimit": 0}}
          }
        },
        {
          "data": {"name": "sim"},
          "mark": {"type": "line", "strokeWidth": 2, "clip": true},
          "encoding": {
            "x": {"field": "t", "type": "quantitative", "title": "Time(s)"},
            "y": {"field": "f", "type": "quantitative", "title": "Acceleration(m/s²)"},
            "color": {"datum": "Flexible body vibration", "type": "nominal"},
            "strokeDash": {"datum": "Flexible body vibration", "type": "nominal"}
          }
        },
        {
          "data": {"name": "sim"},
          "mark": {"type": "line", "strokeWidth": 2, "clip": true},
          "encoding": {
            "x": {"field": "t", "type": "quantitative", "title": "Time(s)"},
            "y": {"field": "r", "type": "quantitative", "title": "Acceleration(m/s²)"},
            "color": {"datum": "Rigid body vibration", "type": "nominal"},
            "strokeDash": {"datum": "Rigid body vibration", "type": "nominal"}
          }
        },
        {
          "data": {"name": "box"},
          "mark": {"type": "rect", "fill": null, "stroke": "#7ee000", "strokeWidth": 4.5, "strokeDash": [30, 31]},
          "encoding": {
            "x": {"field": "x1", "type": "quantitative", "title": "Time(s)"},
            "x2": {"field": "x2"},
            "y": {"field": "y1", "type": "quantitative", "title": "Acceleration(m/s²)"},
            "y2": {"field": "y2"}
          }
        }
      ]
    },
    {
      "width": 1642,
      "height": 1135,
      "title": {"text": "(b)", "orient": "bottom", "frame": "group", "anchor": "middle", "fontSize": 80, "fontWeight": "bold", "offset": 68, "dx": -114},
      "layer": [
        {
          "data": {"name": "act"},
          "mark": {"type": "line", "strokeWidth": 2.5, "clip": true},
          "encoding": {
            "x": {"field": "t", "type": "quantitative", "title": "Time(s)", "scale": {"domain": [24.92, 30.236], "nice": false, "zero": false}, "axis": {"values": [25, 26, 27, 28, 29, 30], "labelPadding": 57, "titleFontSize": 78, "titlePadding": 29}},
            "y": {"field": "v", "type": "quantitative", "title": "Acceleration(m/s²)", "scale": {"domain": [-2.41, 4], "nice": false, "zero": false}, "axis": {"values": [-2, -1, 0, 1, 2, 3, 4], "labelPadding": 38, "titleFontSize": 75, "titlePadding": 30}},
            "color": {"datum": "Actual vibration", "type": "nominal", "scale": {"domain": ["Actual vibration", "Flexible body vibration", "Rigid body vibration"], "range": ["#000000", "#ff0000", "#0000ff"]},
              "legend": {"title": null, "orient": "none", "legendX": 47, "legendY": 18, "padding": 0, "symbolType": "M-2,0H2", "symbolSize": 3249, "symbolStrokeWidth": 5, "labelFont": "Liberation Serif", "labelFontSize": 55, "labelColor": "black", "labelOffset": 79, "rowPadding": 7, "labelLimit": 0}},
            "strokeDash": {"datum": "Actual vibration", "type": "nominal", "scale": {"domain": ["Actual vibration", "Flexible body vibration", "Rigid body vibration"], "range": [[1, 0], [1, 0], [30, 15, 8, 15]]},
              "legend": {"title": null, "orient": "none", "legendX": 47, "legendY": 18, "padding": 0, "symbolType": "M-2,0H2", "symbolSize": 3249, "symbolStrokeWidth": 5, "labelFont": "Liberation Serif", "labelFontSize": 55, "labelColor": "black", "labelOffset": 79, "rowPadding": 7, "labelLimit": 0}}
          }
        },
        {
          "data": {"name": "sim"},
          "mark": {"type": "line", "strokeWidth": 3.5, "clip": true},
          "encoding": {
            "x": {"field": "t", "type": "quantitative", "title": "Time(s)"},
            "y": {"field": "f", "type": "quantitative", "title": "Acceleration(m/s²)"},
            "color": {"datum": "Flexible body vibration", "type": "nominal"},
            "strokeDash": {"datum": "Flexible body vibration", "type": "nominal"}
          }
        },
        {
          "data": {"name": "sim"},
          "mark": {"type": "line", "strokeWidth": 4, "clip": true},
          "encoding": {
            "x": {"field": "t", "type": "quantitative", "title": "Time(s)"},
            "y": {"field": "r", "type": "quantitative", "title": "Acceleration(m/s²)"},
            "color": {"datum": "Rigid body vibration", "type": "nominal"},
            "strokeDash": {"datum": "Rigid body vibration", "type": "nominal"}
          }
        }
      ]
    }
  ]
}
